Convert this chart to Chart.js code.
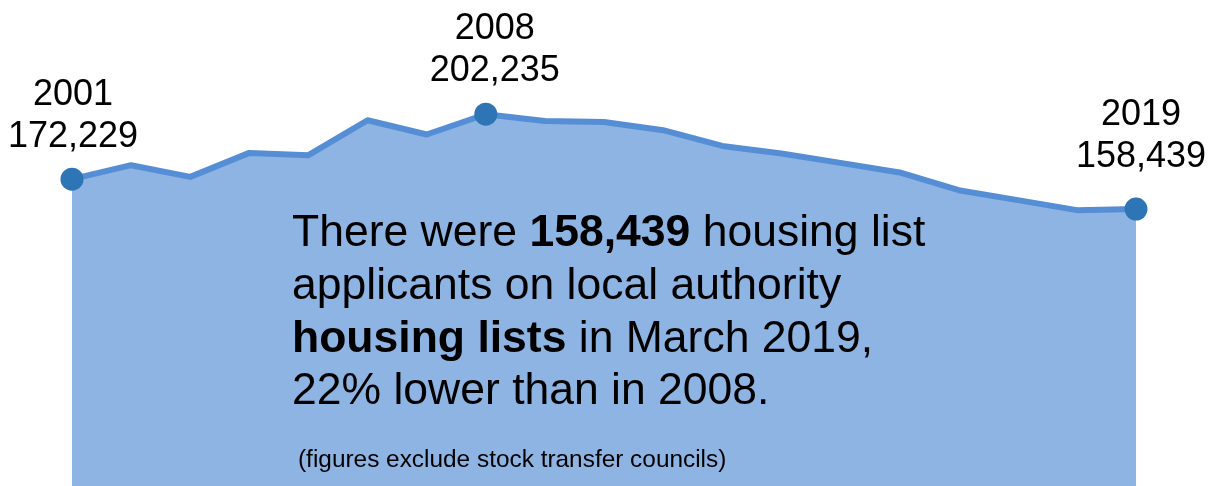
<!DOCTYPE html>
<html>
<head>
<meta charset="utf-8">
<script src="https://cdn.jsdelivr.net/npm/chart.js@4/dist/chart.umd.min.js"></script>
<style>
  html, body { margin: 0; padding: 0; background: #ffffff; }
  #wrap { position: relative; width: 1216px; height: 486px; overflow: hidden; }
  #c { position: absolute; left: 0; top: 0; }
  .note {
    position: absolute; left: 292px; top: 205px;
    font-family: "Liberation Sans", Arial, sans-serif;
    font-size: 44.5px; line-height: 52.8px; color: #000; white-space: nowrap;
  }
  .foot {
    position: absolute; left: 298px; top: 447px;
    font-family: "Liberation Sans", Arial, sans-serif;
    font-size: 24.4px; line-height: 24px; color: #000; white-space: nowrap;
  }
</style>
</head>
<body>
<div id="wrap">
  <canvas id="c" width="1216" height="486"></canvas>
  <div class="note">There were <b>158,439</b> housing list<br>applicants on local authority<br><b>housing lists</b> in March 2019,<br>22% lower than in 2008.</div>
  <div class="foot">(figures exclude stock transfer councils)</div>
</div>
<script>
// ---- data ----
const years = ['2001','2002','2003','2004','2005','2006','2007','2008','2009','2010',
               '2011','2012','2013','2014','2015','2016','2017','2018','2019'];
const applicants = [172229, 178690, 173290, 184370, 183310, 199460, 192860, 202235, 199140, 198680,
                    194850, 187600, 184090, 179750, 175320, 167150, 162540, 157920, 158439];
const highlightYears = ['2001', '2008', '2019'];
const yMin = 30500;
const yMax = 255000;

const fmt = v => v.toLocaleString('en-GB');
const highlightIdx = highlightYears.map(y => years.indexOf(y));

const labelPlugin = {
  id: 'pointLabels',
  afterDatasetsDraw(chart, args, opts) {
    const ctx = chart.ctx;
    const meta = chart.getDatasetMeta(0);
    ctx.save();
    ctx.font = '36px "Liberation Sans", Arial, sans-serif';
    ctx.fillStyle = '#000000';
    ctx.textAlign = 'center';
    ctx.textBaseline = 'alphabetic';
    highlightIdx.forEach((i, k) => {
      const p = meta.data[i];
      const off = opts.offsets[k];
      const x = p.x + off.dx;
      const base = p.y - off.dy;
      ctx.fillText(fmt(applicants[i]), x, base);
      ctx.fillText(years[i], x, base - 42);
    });
    ctx.restore();
  }
};

new Chart(document.getElementById('c'), {
  type: 'line',
  data: {
    labels: years,
    datasets: [{
      data: applicants,
      borderColor: '#558ED5',
      borderWidth: 6,
      backgroundColor: '#8EB4E3',
      fill: 'start',
      tension: 0,
      borderJoinStyle: 'round',
      clip: false,
      pointRadius: applicants.map((v, i) => highlightIdx.includes(i) ? 11.5 : 0),
      pointBackgroundColor: '#2E75B6',
      pointBorderColor: '#2E75B6',
      pointBorderWidth: 0,
      pointHoverRadius: 0
    }]
  },
  options: {
    responsive: false,
    animation: false,
    events: [],
    layout: { autoPadding: false, padding: { left: 72, right: 80, top: 0, bottom: 0 } },
    scales: {
      x: { display: false, offset: false },
      y: { display: false, min: yMin, max: yMax }
    },
    plugins: {
      legend: { display: false },
      tooltip: { enabled: false },
      pointLabels: {
        offsets: [ { dx: 1, dy: 32 }, { dx: 9, dy: 33 }, { dx: 5, dy: 42 } ]
      }
    }
  },
  plugins: [labelPlugin]
});
</script>
</body>
</html>
